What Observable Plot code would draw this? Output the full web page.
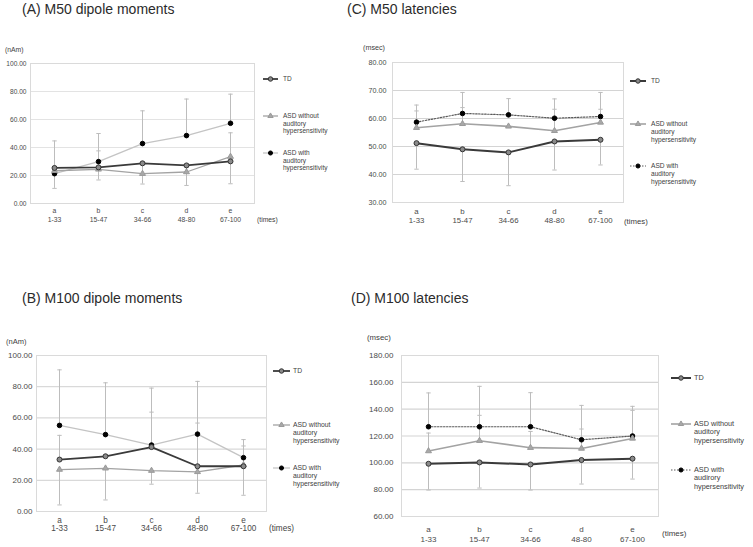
<!DOCTYPE html>
<html>
<head>
<meta charset="utf-8">
<script src="https://cdn.jsdelivr.net/npm/d3@7"></script>
<script src="https://cdn.jsdelivr.net/npm/@observablehq/plot@0.6"></script>
<style>
  html, body { margin: 0; padding: 0; background: #fff; }
  #wrap { position: relative; width: 753px; height: 547px; overflow: hidden; background: #fff;
          font-family: "Liberation Sans", Arial, sans-serif; color: #404040; }
  .abs { position: absolute; white-space: pre; }
  .title { font-size: 14px; line-height: 17px; color: #2b2b2b; }
</style>
</head>
<body>
<div id="wrap"></div>
<script>
// ---------- data ----------
const groups = ["a", "b", "c", "d", "e"];
const trialRanges = ["1-33", "15-47", "34-66", "48-80", "67-100"];
const momentTicks = [0, 20, 40, 60, 80, 100];
const m50LatTicks = [30, 40, 50, 60, 70, 80];
const m100LatTicks = [60, 80, 100, 120, 140, 160, 180];

// (A) M50 dipole moments (nAm)
const m50MomTD = [25.4, 25.8, 28.7, 27.2, 30.1];
const m50MomTDEnd = [10.8, 16.8, 13.9, 12.9, 14.1];
const m50MomASDwo = [23.4, 24.4, 21.3, 22.5, 33.5];
const m50MomASDwoEnd = [null, 37.6, null, null, 50.5];
const m50MomASDw = [21.3, 29.9, 42.8, 48.5, 57.3];
const m50MomASDwEnd = [44.7, 50.0, 66.2, 74.6, 78.1];

// (B) M100 dipole moments (nAm)
const m100MomTD = [33.3, 35.4, 41.3, 29.0, 29.0];
const m100MomTDEnd = [48.8, null, 63.7, 56.7, 42.0];
const m100MomASDwo = [26.9, 27.7, 26.2, 25.4, 29.8];
const m100MomASDwoEnd = [4.2, 7.4, 17.5, 11.7, 10.4];
const m100MomASDw = [55.2, 49.3, 42.6, 49.6, 34.5];
const m100MomASDwEnd = [90.8, 82.5, 79.1, 83.4, 46.1];

// (C) M50 latencies (msec)
const m50LatTD = [51.2, 49.0, 47.9, 51.8, 52.4];
const m50LatTDEnd = [41.9, 37.5, 36.0, 41.6, 43.4];
const m50LatASDwo = [56.7, 58.1, 57.2, 55.6, 58.6];
const m50LatASDwoEnd = [62.7, 63.9, null, 63.3, 63.3];
const m50LatASDw = [58.7, 61.8, 61.3, 60.1, 60.7];
const m50LatASDwEnd = [64.8, 69.3, 67.1, 67.0, 69.3];

// (D) M100 latencies (msec)
const m100LatTD = [99.3, 100.3, 98.8, 102.1, 103.1];
const m100LatTDEnd = [79.7, 81.2, 79.7, 84.2, 87.9];
const m100LatASDwo = [108.8, 116.5, 111.3, 110.7, 118.2];
const m100LatASDwoEnd = [122.2, 135.4, 123.4, 125.2, 139.1];
const m100LatASDw = [126.9, 126.9, 126.9, 117.2, 120.0];
const m100LatASDwEnd = [152.1, 157.0, 152.3, 142.8, 142.1];

const titles = ["(A) M50 dipole moments", "(B) M100 dipole moments", "(C) M50 latencies", "(D) M100 latencies"];
const legendTD = "TD";
const legendASDwo = "ASD without\nauditory\nhypersensitivity";
const legendASDw = "ASD with\nauditory\nhypersensitivity";
const legendASDwD = "ASD with\naudirory\nhypersensitivity";
const unitMoment = "(nAm)";
const unitLatency = "(msec)";
const unitTimes = "(times)";

// ---------- drawing ----------
const wrap = document.getElementById("wrap");
const FONT = '"Liberation Sans", Arial, sans-serif';

const capSymbol = {
  draw(ctx, size) {
    const r = Math.sqrt(size / Math.PI);
    ctx.moveTo(-r, 0);
    ctx.lineTo(r, 0);
  }
};

function addText(text, left, cy, size, lh, cls) {
  const d = document.createElement("div");
  d.className = "abs" + (cls ? " " + cls : "");
  d.textContent = text;
  d.style.left = left + "px";
  d.style.top = (cy - lh / 2) + "px";
  d.style.fontSize = size + "px";
  d.style.lineHeight = lh + "px";
  wrap.appendChild(d);
}

function styles(kind, latency) {
  if (kind === "TD") return {stroke: "#3a3a3a", sw: latency ? 2 : 1.8, dash: null,
    symbol: "circle", r: 2.5, fill: "#8a8a8a", mstroke: "#333"};
  if (kind === "wo") return {stroke: "#a3a3a3", sw: latency ? 1.6 : 1.3, dash: null,
    symbol: "triangle", r: 2.2, fill: "#a8a8a8", mstroke: "#9a9a9a"};
  return latency
    ? {stroke: "#5a5a5a", sw: 1.2, dash: "1.5,1.5", symbol: "circle", r: 2.3, fill: "#000", mstroke: "#000"}
    : {stroke: "#c4c4c4", sw: 1.3, dash: null, symbol: "circle", r: 2.3, fill: "#000", mstroke: "#000"};
}

function drawPanel(cfg) {
  const rows = [], bars = [];
  cfg.series.forEach(s => {
    groups.forEach((g, i) => {
      rows.push({g, v: s.values[i], key: s.key});
      if (s.ends[i] != null) bars.push({g, from: s.values[i], to: s.ends[i]});
    });
  });
  const order = ["w", "wo", "TD"];
  const seriesMarks = order.flatMap(k => {
    const st = styles(k, cfg.latency);
    const data = rows.filter(r => r.key === k);
    return [
      Plot.line(data, {x: "g", y: "v", stroke: st.stroke, strokeWidth: st.sw, strokeDasharray: st.dash}),
      Plot.dot(data, {x: "g", y: "v", symbol: st.symbol, r: st.r, fill: st.fill, stroke: st.mstroke, strokeWidth: 1})
    ];
  });
  const [ml, mt, mr, mb] = cfg.margins;
  const chart = Plot.plot({
    width: cfg.width, height: cfg.height,
    marginLeft: ml, marginTop: mt, marginRight: mr, marginBottom: mb,
    style: {fontFamily: FONT, color: "#4a4a4a", background: "transparent", overflow: "visible"},
    x: {type: "point", domain: groups, padding: 0.5, label: null},
    y: {domain: cfg.yDomain, label: null},
    marks: [
      Plot.gridY(cfg.yTicks, {stroke: cfg.gridColor, strokeOpacity: 1, strokeWidth: cfg.gridW}),
      Plot.frame({stroke: "#dadada"}),
      Plot.ruleX(bars, {x: "g", y1: "from", y2: "to", stroke: "#bdbdbd", strokeWidth: 1}),
      Plot.dot(bars, {x: "g", y: "to", symbol: capSymbol, r: 2.2, stroke: "#bdbdbd", fill: "none", strokeWidth: 1}),
      ...seriesMarks,
      Plot.axisX({tickSize: 0, tickPadding: cfg.xPad, fontSize: cfg.xFont, lineHeight: cfg.xLH,
        tickFormat: (g) => g + "\n" + trialRanges[groups.indexOf(g)]}),
      Plot.axisY(cfg.yTicks, {tickSize: 0, tickPadding: cfg.yPad, fontSize: cfg.yFont,
        tickFormat: d3.format(".2f")})
    ]
  });
  chart.style.position = "absolute";
  chart.style.left = cfg.left + "px";
  chart.style.top = cfg.top + "px";
  wrap.appendChild(chart);

  // title, units
  addText(cfg.title, cfg.titleX, cfg.titleY, 14, 17, "title");
  addText(cfg.unit, cfg.unitX, cfg.unitY, cfg.unitFont, 10);
  addText(unitTimes, cfg.timesX, cfg.timesY, cfg.xFont, 10);

  // legend
  const lg = cfg.legend;
  const entries = [["TD", legendTD], ["wo", legendASDwo], ["w", cfg.legendW]];
  entries.forEach(([k, label], j) => {
    const st = styles(k, cfg.latency);
    const cy = lg.ys[j];
    const w = lg.x1 - lg.x0;
    const svg = d3.create("svg").attr("width", w + 6).attr("height", 10)
      .style("position", "absolute").style("left", (lg.x0 - 3) + "px").style("top", (cy - 5) + "px");
    svg.append("line").attr("x1", 3).attr("x2", w + 3).attr("y1", 5).attr("y2", 5)
      .attr("stroke", st.stroke).attr("stroke-width", st.sw).attr("stroke-dasharray", st.dash);
    const sym = st.symbol === "triangle" ? d3.symbolTriangle : d3.symbolCircle;
    svg.append("path").attr("transform", `translate(${3 + w / 2},5)`)
      .attr("d", d3.symbol(sym, st.r * st.r * Math.PI * 0.8)())
      .attr("fill", st.fill).attr("stroke", st.mstroke).attr("stroke-width", 1);
    wrap.appendChild(svg.node());
    addText(label, lg.tx, cy, lg.font, lg.lh);
  });
}

// (A)
drawPanel({
  title: titles[0], titleX: 22, titleY: 9,
  left: 0, top: 55, width: 260, height: 175, margins: [30, 8, 6, 27],
  yDomain: [0, 100], yTicks: momentTicks, latency: false,
  gridColor: "#e3e3e3", gridW: 1,
  xFont: 6.8, xLH: 1.3, xPad: 3, yFont: 6.6, yPad: 4,
  unit: unitMoment, unitX: 5, unitY: 50, unitFont: 6.8,
  timesX: 257, timesY: 220,
  legendW: legendASDw,
  legend: {x0: 263, x1: 278, tx: 283, ys: [79, 116, 153], lh: 7.6, font: 6.5},
  series: [
    {key: "TD", values: m50MomTD, ends: m50MomTDEnd},
    {key: "wo", values: m50MomASDwo, ends: m50MomASDwoEnd},
    {key: "w", values: m50MomASDw, ends: m50MomASDwEnd}
  ]
});

// (C)
drawPanel({
  title: titles[2], titleX: 347, titleY: 9,
  left: 360, top: 54, width: 269, height: 175, margins: [32, 8, 6, 27],
  yDomain: [30, 80], yTicks: m50LatTicks, latency: true,
  gridColor: "#d4d4d4", gridW: 1.2,
  xFont: 7.8, xLH: 1.15, xPad: 5, yFont: 7.2, yPad: 6,
  unit: unitLatency, unitX: 363, unitY: 48, unitFont: 7.2,
  timesX: 624, timesY: 222,
  legendW: legendASDw,
  legend: {x0: 630, x1: 646, tx: 651, ys: [81, 124, 166], lh: 8, font: 6.6},
  series: [
    {key: "TD", values: m50LatTD, ends: m50LatTDEnd},
    {key: "wo", values: m50LatASDwo, ends: m50LatASDwoEnd},
    {key: "w", values: m50LatASDw, ends: m50LatASDwEnd}
  ]
});

// (B)
drawPanel({
  title: titles[1], titleX: 22, titleY: 298,
  left: 0, top: 347, width: 272, height: 192, margins: [36, 8, 6, 28],
  yDomain: [0, 100], yTicks: momentTicks, latency: false,
  gridColor: "#d9d9d9", gridW: 1.2,
  xFont: 8.2, xLH: 1.05, xPad: 5, yFont: 8, yPad: 4,
  unit: unitMoment, unitX: 6, unitY: 342, unitFont: 7.5,
  timesX: 269, timesY: 529,
  legendW: legendASDw,
  legend: {x0: 273, x1: 290, tx: 293, ys: [371, 425, 468], lh: 8, font: 6.8},
  series: [
    {key: "TD", values: m100MomTD, ends: m100MomTDEnd},
    {key: "wo", values: m100MomASDwo, ends: m100MomASDwoEnd},
    {key: "w", values: m100MomASDw, ends: m100MomASDwEnd}
  ]
});

// (D)
drawPanel({
  title: titles[3], titleX: 351, titleY: 298,
  left: 362, top: 347, width: 302, height: 199, margins: [39, 8, 6, 30],
  yDomain: [60, 180], yTicks: m100LatTicks, latency: true,
  gridColor: "#d4d4d4", gridW: 1.2,
  xFont: 8, xLH: 1.25, xPad: 8, yFont: 8, yPad: 8,
  unit: unitLatency, unitX: 367, unitY: 338, unitFont: 7.8,
  timesX: 662, timesY: 534,
  legendW: legendASDwD,
  legend: {x0: 671, x1: 691, tx: 694, ys: [378, 424, 470], lh: 8.5, font: 7.3},
  series: [
    {key: "TD", values: m100LatTD, ends: m100LatTDEnd},
    {key: "wo", values: m100LatASDwo, ends: m100LatASDwoEnd},
    {key: "w", values: m100LatASDw, ends: m100LatASDwEnd}
  ]
});
</script>
</body>
</html>
